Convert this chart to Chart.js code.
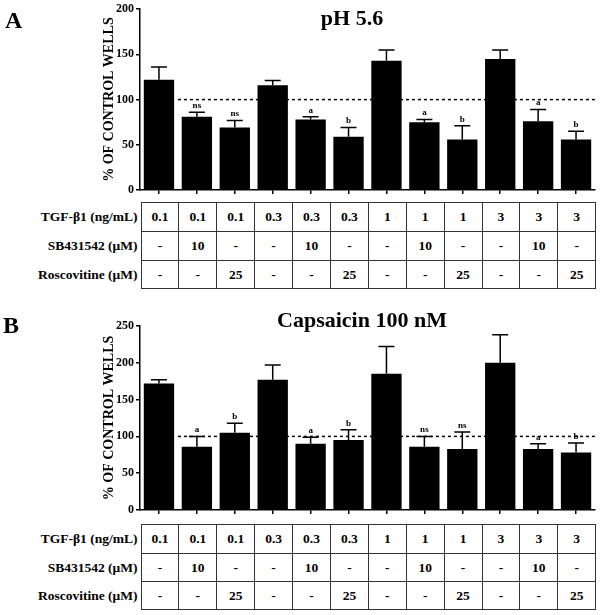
<!DOCTYPE html>
<html>
<head>
<meta charset="UTF-8" />
<title>TGF-β1 responses, pH 5.6 and capsaicin</title>
<script src="https://cdn.jsdelivr.net/npm/chart.js"></script>
<style>
body { margin: 0; background: #fff; }
#page { position: relative; width: 600px; height: 615px; font-family: "Liberation Serif", "Times New Roman", Times, serif; font-weight: bold; }
canvas { position: absolute; left: 0; }
table { position: absolute; left: 0; border-collapse: collapse; table-layout: fixed; width: 596px; font-family: "Liberation Serif", "Times New Roman", Times, serif; font-weight: bold; font-size: 13.5px; }
td { border: 1px solid #333; text-align: center; padding: 0; }
td.lab { border: none; text-align: right; padding-right: 3px; white-space: nowrap; }
</style>
</head>
<body>
<div id="page">
	<canvas id="chartA" width="600" height="200" style="top:0px"></canvas>
	<table id="tableA" style="top:202px"></table>
	<canvas id="chartB" width="600" height="220" style="top:300px"></canvas>
	<table id="tableB" style="top:524px"></table>
</div>
<script>
// data
const groups = ['G1', 'G2', 'G3', 'G4', 'G5', 'G6', 'G7', 'G8', 'G9', 'G10', 'G11', 'G12'];
const tgf = ['0.1', '0.1', '0.1', '0.3', '0.3', '0.3', '1', '1', '1', '3', '3', '3'];
const sb = ['-', '10', '-', '-', '10', '-', '-', '10', '-', '-', '10', '-'];
const rosco = ['-', '-', '25', '-', '-', '25', '-', '-', '25', '-', '-', '25'];
const rowLabels = ['TGF-β1 (ng/mL)', 'SB431542 (μM)', 'Roscovitine (μM)'];

const phMean = [122, 81, 69, 116, 78, 59, 143, 75, 56, 145, 76, 56];
const phSem = [14, 5, 8, 5, 3, 10, 12, 3, 15, 10, 13, 9];
const phSig = ['', 'ns', 'ns', '', 'a', 'b', '', 'a', 'b', '', 'a', 'b'];
const phTicks = [0, 50, 100, 150, 200];

const capMean = [172, 86, 105, 177, 90, 95, 185, 86, 83, 200, 83, 78];
const capSem = [5, 14, 13, 20, 9, 14, 37, 14, 23, 38, 7, 13];
const capSig = ['', 'a', 'b', '', 'a', 'b', '', 'ns', 'ns', '', 'a', 'b'];
const capTicks = [0, 50, 100, 150, 200, 250];

const serif = '"Liberation Serif", "Times New Roman", serif';

// error bars, letters, dashed 100% line, titles
const extras = {
	id: 'extras',
	beforeDatasetsDraw(chart, args, opts) {
		const {ctx, scales: {x, y}, chartArea} = chart;
		ctx.save();
		ctx.strokeStyle = '#000';
		ctx.lineWidth = 1.5;
		ctx.setLineDash([3, 3]);
		ctx.beginPath();
		ctx.moveTo(x.getPixelForValue(0.5), y.getPixelForValue(100));
		ctx.lineTo(chartArea.right, y.getPixelForValue(100));
		ctx.stroke();
		ctx.restore();
	},
	afterDatasetsDraw(chart, args, opts) {
		const {ctx, scales: {y}} = chart;
		const meta = chart.getDatasetMeta(0);
		ctx.save();
		ctx.strokeStyle = '#000';
		ctx.fillStyle = '#000';
		ctx.lineWidth = 1.5;
		ctx.font = 'bold 9px ' + serif;
		ctx.textAlign = 'center';
		ctx.textBaseline = 'bottom';
		meta.data.forEach((bar, i) => {
			const top = y.getPixelForValue(opts.mean[i]);
			const errTop = y.getPixelForValue(opts.mean[i] + opts.sem[i]);
			ctx.beginPath();
			ctx.moveTo(bar.x, top);
			ctx.lineTo(bar.x, errTop);
			ctx.moveTo(bar.x - 8, errTop);
			ctx.lineTo(bar.x + 8, errTop);
			ctx.stroke();
			if (opts.sig[i]) ctx.fillText(opts.sig[i], bar.x, errTop - 2);
		});
		ctx.restore();
	},
	afterDraw(chart, args, opts) {
		const {ctx, chartArea} = chart;
		ctx.save();
		ctx.fillStyle = '#000';
		ctx.textBaseline = 'alphabetic';
		ctx.font = 'bold 24px ' + serif;
		ctx.textAlign = 'left';
		ctx.fillText(opts.letter, opts.letterX, opts.letterY);
		ctx.font = 'bold 22px ' + serif;
		ctx.textAlign = 'center';
		ctx.fillText(opts.title, opts.titleX, opts.titleY);
		ctx.translate(113, (chartArea.top + chartArea.bottom) / 2);
		ctx.rotate(-Math.PI / 2);
		ctx.font = 'bold 14px ' + serif;
		ctx.fillText('% OF CONTROL WELLS', 0, 0);
		ctx.restore();
	}
};

function makePanel(id, mean, sem, sig, ticks, padTop, title, titleX, titleY, letter, letterX, letterY) {
	return new Chart(document.getElementById(id), {
		type: 'bar',
		data: {
			labels: groups,
			datasets: [{
				data: mean,
				backgroundColor: '#000',
				borderWidth: 0,
				barPercentage: 0.8,
				categoryPercentage: 1.0
			}]
		},
		options: {
			responsive: false,
			animation: false,
			layout: {padding: {top: padTop, right: 5, left: 0, bottom: 0}},
			plugins: {
				legend: {display: false},
				tooltip: {enabled: false},
				extras: {mean, sem, sig, title, titleX, titleY, letter, letterX, letterY}
			},
			scales: {
				x: {
					ticks: {display: false},
					grid: {offset: false, drawOnChartArea: false, tickLength: 4, color: '#000', lineWidth: 1.5},
					border: {color: '#000', width: 1.5},
					afterFit(s) { s.height = 10; }
				},
				y: {
					min: ticks[0],
					max: ticks[ticks.length - 1],
					afterBuildTicks(s) { s.ticks = ticks.map(v => ({value: v})); },
					ticks: {color: '#000', padding: 2, font: {family: serif, size: 12, weight: 'bold'}},
					grid: {drawOnChartArea: false, tickLength: 4, color: '#000', lineWidth: 1.5},
					border: {color: '#000', width: 1.5},
					afterFit(s) { s.width = 140; }
				}
			}
		},
		plugins: [extras]
	});
}

function buildTable(id, heights) {
	const table = document.getElementById(id);
	let html = '<colgroup><col style="width:141px">';
	groups.forEach(() => { html += '<col style="width:37.9px">'; });
	html += '</colgroup>';
	[tgf, sb, rosco].forEach((row, r) => {
		html += '<tr style="height:' + heights[r] + 'px"><td class="lab">' + rowLabels[r] + '</td>';
		row.forEach(v => { html += '<td>' + v + '</td>'; });
		html += '</tr>';
	});
	table.innerHTML = html;
}

makePanel('chartA', phMean, phSem, phSig, phTicks, 8, 'pH 5.6', 352, 25, 'A', 5, 28);
makePanel('chartB', capMean, capSem, capSig, capTicks, 26, 'Capsaicin 100 nM', 362, 27, 'B', 3, 33);
buildTable('tableA', [29, 29, 28]);
buildTable('tableB', [29, 28, 28]);
</script>
</body>
</html>
